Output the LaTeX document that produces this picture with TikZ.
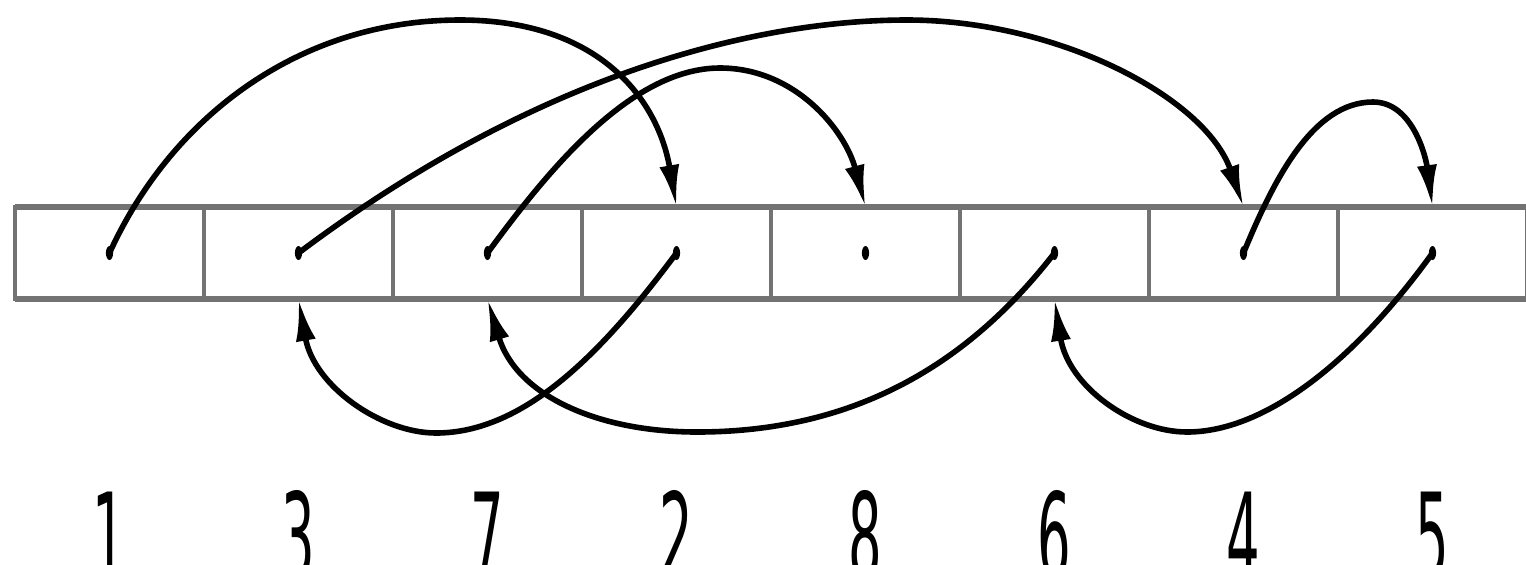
\documentclass[tikz,border=0pt]{standalone}
\usepackage{fontspec}
\usepackage{graphicx}
\setmainfont{DejaVu Sans}
\usetikzlibrary{arrows.meta,shapes.geometric}
\begin{document}
\begin{tikzpicture}[x=0.5pt,y=-0.5pt,
  cell/.style={draw=black!55, line width=1.6pt, minimum width=94.5pt, minimum height=46pt, inner sep=0pt, outer sep=0pt},
  rail/.style={draw=black!55, line width=2.6pt},
  dotmark/.style={ellipse, fill=black, minimum width=3.6pt, minimum height=7pt, inner sep=0pt},
  digit/.style={font=\fontsize{60}{60}\selectfont, anchor=base, inner sep=0pt},
  arr/.style={line width=2.8pt, -{Latex[length=21pt,width=10pt]}}
]
\useasboundingbox (0,0) rectangle (1526,564);
\clip (0,0) rectangle (1526,564);
% cells (named by the label printed below them)
\foreach \lab [count=\i] in {1,3,7,2,8,6,4,5} {
  \node[cell] (n\lab) at ({15+189*(\i-0.5)},253) {};
  \node[dotmark] (d\lab) at (n\lab.center) {};
  \node[digit] (l\lab) at ({15+189*(\i-0.5)},579) {\scalebox{0.44}[1]{\lab}};
}
\draw[rail] (n1.north west) -- (n5.north east);
\draw[rail] (n1.south west) -- (n5.south east);
% peak / trough coordinates
\coordinate (p12) at (460,20);
\coordinate (p34) at (907,20);
\coordinate (p78) at (720,68);
\coordinate (p45) at (1373,102);
\coordinate (p23) at (436,433);
\coordinate (p67) at (697,432);
\coordinate (p56) at (1187,432);
% upper arcs
\draw[arr] (d1.center) .. controls (172,116) and (300,20) .. (p12) .. controls (600,20) and (658,100) .. (n2.north);
\draw[arr] (d3.center) .. controls (538,73) and (757,20) .. (p34) .. controls (1057,20) and (1205,97) .. (n4.north);
\draw[arr] (d7.center) .. controls (546,173) and (630,68) .. (p78) .. controls (795,68) and (845,130) .. (n8.north);
\draw[arr] (d4.center) .. controls (1274,179) and (1313,102) .. (p45) .. controls (1413,102) and (1426,158) .. (n5.north);
% lower arcs
\draw[arr] (d2.center) .. controls (605,349) and (526,433) .. (p23) .. controls (381,433) and (314,386) .. (n3.south);
\draw[arr] (d6.center) .. controls (963,371) and (847,432) .. (p67) .. controls (597,432) and (516,395) .. (n7.south);
\draw[arr] (d5.center) .. controls (1357,358) and (1267,432) .. (p56) .. controls (1132,432) and (1068,386) .. (n6.south);
\end{tikzpicture}
\end{document}
